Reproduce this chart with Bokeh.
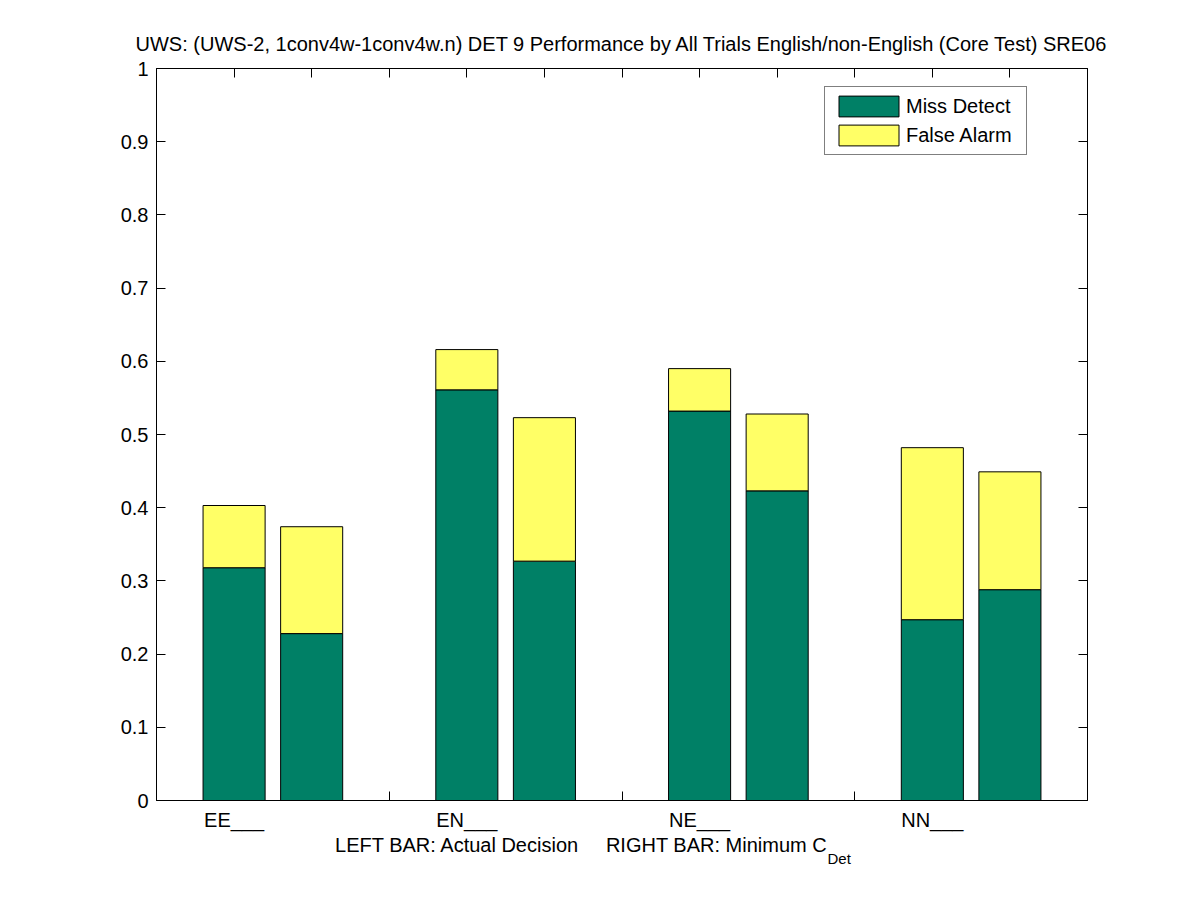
from bokeh.plotting import figure
from bokeh.models import (ColumnDataSource, Range1d, LinearAxis, FixedTicker,
                          Legend, LegendItem, Title)
from bokeh.embed import file_html
from bokeh.resources import INLINE

# ---- data ----
group_labels = ["EE___", "EN___", "NE___", "NN___"]
group_label_pos = [1, 4, 7, 10]
bar_x = [1, 2, 4, 5, 7, 8, 10, 11]          # left bar / right bar per group
miss_detect = [0.318, 0.228, 0.561, 0.327, 0.532, 0.423, 0.247, 0.288]
false_alarm = [0.085, 0.146, 0.055, 0.196, 0.058, 0.105, 0.235, 0.161]
y_ticks = [0, 0.1, 0.2, 0.3, 0.4, 0.5, 0.6, 0.7, 0.8, 0.9, 1]
top_ticks = [1, 2, 3, 4, 5, 6, 7, 8, 9, 10, 11]
group_bounds = [3, 6, 9]

FONT = "Liberation Sans"
GREEN = "#008066"
YELLOW = "#FFFF66"
FS = "20px"
NBSP = "\u00a0"

src = ColumnDataSource(dict(x=bar_x, miss=miss_detect, fa=false_alarm))

p = figure(width=1200, height=892, output_backend="svg", toolbar_location=None,
           x_range=Range1d(0, 12), y_range=Range1d(0, 1),
           frame_width=931, frame_height=732,
           min_border_left=156, min_border_right=113,
           min_border_top=68, min_border_bottom=92,
           x_axis_location=None, y_axis_location=None)
p.xgrid.visible = False
p.ygrid.visible = False
p.outline_line_color = "black"
p.outline_line_width = 1

p.title.text = "UWS: (UWS-2, 1conv4w-1conv4w.n) DET 9 Performance by All Trials English/non-English (Core Test) SRE06"
p.title.align = "center"
p.title.text_font = FONT
p.title.text_font_size = FS
p.title.text_font_style = "normal"
p.title.text_color = "black"
p.title.standoff = 28

rs = p.vbar_stack(["miss", "fa"], x="x", width=0.8, source=src,
                  fill_color=[GREEN, YELLOW], line_color="black", line_width=1)

# left axis
la = LinearAxis(ticker=FixedTicker(ticks=y_ticks, minor_ticks=[]))
la.major_label_overrides = {0: "0", 1: "1"}
la.major_tick_in = 9
la.major_tick_out = 0
la.major_label_standoff = 8
la.major_label_text_font = FONT
la.major_label_text_font_size = FS
la.major_label_text_color = "black"
la.axis_line_color = "black"
p.add_layout(la, "left")

# right axis (ticks only)
ra = LinearAxis(ticker=FixedTicker(ticks=y_ticks, minor_ticks=[]))
ra.major_tick_in = 9
ra.major_tick_out = 0
ra.major_label_text_font_size = "1px"
ra.major_label_text_color = None
ra.major_label_standoff = 0
p.add_layout(ra, "right")

# bottom axis: group labels + group boundary ticks
ba = LinearAxis(ticker=FixedTicker(ticks=group_label_pos, minor_ticks=group_bounds))
ba.major_label_overrides = {k: v for k, v in zip(group_label_pos, group_labels)}
ba.major_tick_in = 0
ba.major_tick_out = 0
ba.minor_tick_in = 9
ba.minor_tick_out = 0
ba.major_label_standoff = 8
ba.major_label_text_font = FONT
ba.major_label_text_font_size = FS
ba.major_label_text_color = "black"
p.add_layout(ba, "below")

# top axis (ticks only)
ta = LinearAxis(ticker=FixedTicker(ticks=top_ticks, minor_ticks=[]))
ta.major_tick_in = 9
ta.major_tick_out = 0
ta.major_label_text_font_size = "1px"
ta.major_label_text_color = None
ta.major_label_standoff = 0
p.add_layout(ta, "above")

# x label with subscript (two stacked titles below the axis)
xl_main = Title(text="LEFT BAR: Actual Decision" + NBSP * 5 + "RIGHT BAR: Minimum C",
                align="right", offset=259, standoff=-4,
                text_font=FONT, text_font_size=FS, text_font_style="normal",
                text_color="black")
xl_sub = Title(text="Det", align="left", offset=671, standoff=-12,
               text_font=FONT, text_font_size="15px", text_font_style="normal",
               text_color="black")
p.add_layout(xl_main, "below")
p.add_layout(xl_sub, "below")

legend = Legend(items=[LegendItem(label="Miss Detect", renderers=[rs[0]]),
                       LegendItem(label="False Alarm", renderers=[rs[1]])],
                location=(668, 645))
legend.glyph_width = 75
legend.glyph_height = 26
legend.label_height = 26
legend.label_width = 114
legend.spacing = 3
legend.padding = 6
legend.margin = 0
legend.label_standoff = 0
legend.label_text_font = FONT
legend.label_text_font_size = FS
legend.label_text_color = "black"
legend.border_line_color = "black"
legend.border_line_width = 1
legend.background_fill_alpha = 1.0
p.add_layout(legend, "center")

open("out.html", "w").write(file_html(p, INLINE))
